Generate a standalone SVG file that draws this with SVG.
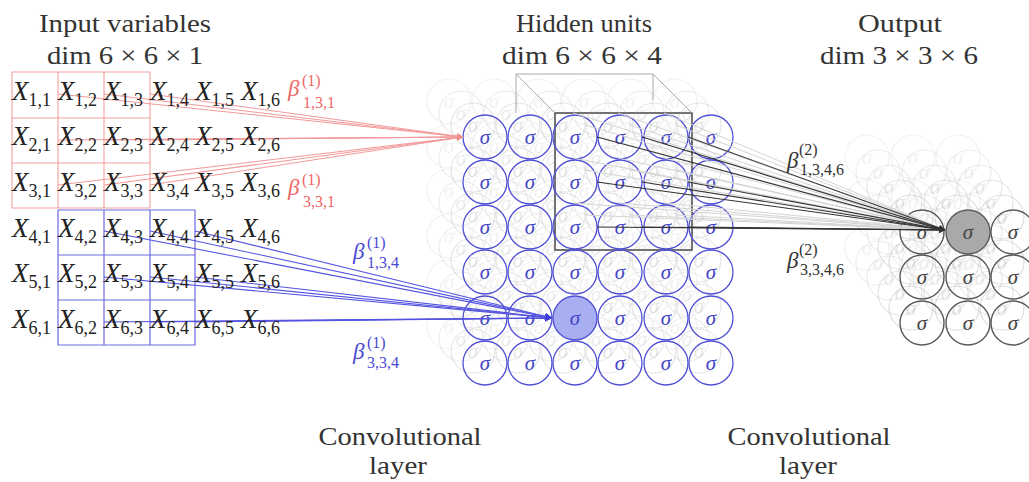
<svg xmlns="http://www.w3.org/2000/svg" xmlns:xlink="http://www.w3.org/1999/xlink" width="1029" height="482" viewBox="0 0 1029 482" font-family="'Liberation Serif', serif">
<style>
.t{fill:#333;font-size:26px;text-anchor:middle}
.x{font-size:27px;font-style:italic;fill:#222}
.sub{font-size:18px;font-style:normal}
.hn circle{fill:none;stroke:#5050d6;stroke-width:1.3}
.hn text,.on text,.grid text{font-style:italic;font-size:21px;text-anchor:middle}
.hn text{fill:#4646c8}
.on circle{fill:none;stroke:#5a5a5a;stroke-width:1.4}
.on text{fill:#444}
.grid circle{fill:none;stroke:currentColor;stroke-width:1.2}
.grid text{fill:currentColor}
.red{stroke:#f29a9a;stroke-width:1.1;fill:none}
.blue{stroke:#5454e0;stroke-width:1.1;fill:none}
.blk{stroke:#333;stroke-width:1.1;fill:none}
.gry{stroke:#d4d4d4;stroke-width:1;fill:none}
.b{font-size:23px;font-style:italic}
.ss{font-size:16px;font-style:normal}
</style>
<defs>
<marker id="ar" viewBox="0 0 6 6" refX="6" refY="3" markerWidth="6" markerHeight="6" markerUnits="userSpaceOnUse" orient="auto"><path d="M0,0L6,3L0,6z" fill="#f08c8c"/></marker>
<marker id="ab" viewBox="0 0 6 6" refX="6" refY="3" markerWidth="7" markerHeight="7" markerUnits="userSpaceOnUse" orient="auto"><path d="M0,0L6,3L0,6z" fill="#4040d8"/></marker>
<marker id="ak" viewBox="0 0 6 6" refX="6" refY="3" markerWidth="6" markerHeight="6" markerUnits="userSpaceOnUse" orient="auto"><path d="M0,0L6,3L0,6z" fill="#333"/></marker>
<g id="hgrid" class="grid">
<circle cx="485" cy="137" r="22"/><circle cx="530" cy="137" r="22"/><circle cx="575" cy="137" r="22"/><circle cx="620" cy="137" r="22"/><circle cx="666" cy="137" r="22"/><circle cx="711" cy="137" r="22"/>
<circle cx="485" cy="182" r="22"/><circle cx="530" cy="182" r="22"/><circle cx="575" cy="182" r="22"/><circle cx="620" cy="182" r="22"/><circle cx="666" cy="182" r="22"/><circle cx="711" cy="182" r="22"/>
<circle cx="485" cy="227" r="22"/><circle cx="530" cy="227" r="22"/><circle cx="575" cy="227" r="22"/><circle cx="620" cy="227" r="22"/><circle cx="666" cy="227" r="22"/><circle cx="711" cy="227" r="22"/>
<circle cx="485" cy="272" r="22"/><circle cx="530" cy="272" r="22"/><circle cx="575" cy="272" r="22"/><circle cx="620" cy="272" r="22"/><circle cx="666" cy="272" r="22"/><circle cx="711" cy="272" r="22"/>
<circle cx="485" cy="318" r="22"/><circle cx="530" cy="318" r="22"/><circle cx="575" cy="318" r="22"/><circle cx="620" cy="318" r="22"/><circle cx="666" cy="318" r="22"/><circle cx="711" cy="318" r="22"/>
<circle cx="485" cy="363" r="22"/><circle cx="530" cy="363" r="22"/><circle cx="575" cy="363" r="22"/><circle cx="620" cy="363" r="22"/><circle cx="666" cy="363" r="22"/><circle cx="711" cy="363" r="22"/>
<text x="485" y="144">σ</text><text x="530" y="144">σ</text><text x="575" y="144">σ</text><text x="620" y="144">σ</text><text x="666" y="144">σ</text><text x="711" y="144">σ</text>
<text x="485" y="189">σ</text><text x="530" y="189">σ</text><text x="575" y="189">σ</text><text x="620" y="189">σ</text><text x="666" y="189">σ</text><text x="711" y="189">σ</text>
<text x="485" y="234">σ</text><text x="530" y="234">σ</text><text x="575" y="234">σ</text><text x="620" y="234">σ</text><text x="666" y="234">σ</text><text x="711" y="234">σ</text>
<text x="485" y="279">σ</text><text x="530" y="279">σ</text><text x="575" y="279">σ</text><text x="620" y="279">σ</text><text x="666" y="279">σ</text><text x="711" y="279">σ</text>
<text x="485" y="325">σ</text><text x="530" y="325">σ</text><text x="575" y="325">σ</text><text x="620" y="325">σ</text><text x="666" y="325">σ</text><text x="711" y="325">σ</text>
<text x="485" y="370">σ</text><text x="530" y="370">σ</text><text x="575" y="370">σ</text><text x="620" y="370">σ</text><text x="666" y="370">σ</text><text x="711" y="370">σ</text>
</g>
<g id="ogrid" class="grid">
<circle cx="922" cy="232" r="22"/><circle cx="968" cy="232" r="22"/><circle cx="1013" cy="232" r="22"/>
<circle cx="922" cy="277" r="22"/><circle cx="968" cy="277" r="22"/><circle cx="1013" cy="277" r="22"/>
<circle cx="922" cy="323" r="22"/><circle cx="968" cy="323" r="22"/><circle cx="1013" cy="323" r="22"/>
<text x="922" y="239">σ</text><text x="968" y="239">σ</text><text x="1013" y="239">σ</text>
<text x="922" y="284">σ</text><text x="968" y="284">σ</text><text x="1013" y="284">σ</text>
<text x="922" y="330">σ</text><text x="968" y="330">σ</text><text x="1013" y="330">σ</text>
</g>
</defs>
<rect width="1029" height="482" fill="#fff"/>

<g id="titles">
<text class="t" x="125" y="32" textLength="172" lengthAdjust="spacingAndGlyphs">Input variables</text>
<text class="t" x="125" y="64" textLength="156" lengthAdjust="spacingAndGlyphs">dim 6 × 6 × 1</text>
<text class="t" x="584" y="32" textLength="136" lengthAdjust="spacingAndGlyphs">Hidden units</text>
<text class="t" x="582" y="64" textLength="160" lengthAdjust="spacingAndGlyphs">dim 6 × 6 × 4</text>
<text class="t" x="900" y="32" textLength="84" lengthAdjust="spacingAndGlyphs">Output</text>
<text class="t" x="899" y="64" textLength="158" lengthAdjust="spacingAndGlyphs">dim 3 × 3 × 6</text>
<text class="t" x="400" y="445" textLength="163" lengthAdjust="spacingAndGlyphs">Convolutional</text>
<text class="t" x="398" y="474" textLength="58" lengthAdjust="spacingAndGlyphs">layer</text>
<text class="t" x="809" y="445" textLength="163" lengthAdjust="spacingAndGlyphs">Convolutional</text>
<text class="t" x="808" y="474" textLength="58" lengthAdjust="spacingAndGlyphs">layer</text>
</g>

<g id="filters">
<path d="M12,72H150V208H12ZM58,72V208M104,72V208M12,118H150M12,163H150" fill="none" stroke="#f2a0a0" stroke-width="1.1"/>
<path d="M58,210H195V345H58ZM104,210V345M150,210V345M58,255H195M58,300H195" fill="none" stroke="#6a6ae0" stroke-width="1.2"/>
<path d="M555,113H692V250H555Z" fill="none" stroke="#444" stroke-width="1.5"/>
<path d="M516,113V74H653V100M516,74L555,113M653,74L692,113" fill="none" stroke="#aaa" stroke-width="1"/>
</g>

<g id="hidden-back">
<use xlink:href="#hgrid" href="#hgrid" transform="translate(-36,-36)" style="color:#999" opacity="0.12"/>
<use xlink:href="#hgrid" href="#hgrid" transform="translate(-24,-24)" style="color:#999" opacity="0.17"/>
<use xlink:href="#hgrid" href="#hgrid" transform="translate(-12,-12)" style="color:#999" opacity="0.24"/>
</g>
<g id="output-back">
<use xlink:href="#ogrid" href="#ogrid" transform="translate(-55,-75)" style="color:#999" opacity="0.12"/>
<use xlink:href="#ogrid" href="#ogrid" transform="translate(-44,-60)" style="color:#999" opacity="0.15"/>
<use xlink:href="#ogrid" href="#ogrid" transform="translate(-33,-45)" style="color:#999" opacity="0.19"/>
<use xlink:href="#ogrid" href="#ogrid" transform="translate(-22,-30)" style="color:#999" opacity="0.24"/>
<use xlink:href="#ogrid" href="#ogrid" transform="translate(-11,-15)" style="color:#999" opacity="0.3"/>
</g>

<g id="hidden">
<g id="h-1-1" class="hn"><circle cx="485" cy="137" r="22"/><text x="485" y="144">σ</text></g>
<g id="h-1-2" class="hn"><circle cx="530" cy="137" r="22"/><text x="530" y="144">σ</text></g>
<g id="h-1-3" class="hn"><circle cx="575" cy="137" r="22"/><text x="575" y="144">σ</text></g>
<g id="h-1-4" class="hn"><circle cx="620" cy="137" r="22"/><text x="620" y="144">σ</text></g>
<g id="h-1-5" class="hn"><circle cx="666" cy="137" r="22"/><text x="666" y="144">σ</text></g>
<g id="h-1-6" class="hn"><circle cx="711" cy="137" r="22"/><text x="711" y="144">σ</text></g>
<g id="h-2-1" class="hn"><circle cx="485" cy="182" r="22"/><text x="485" y="189">σ</text></g>
<g id="h-2-2" class="hn"><circle cx="530" cy="182" r="22"/><text x="530" y="189">σ</text></g>
<g id="h-2-3" class="hn"><circle cx="575" cy="182" r="22"/><text x="575" y="189">σ</text></g>
<g id="h-2-4" class="hn"><circle cx="620" cy="182" r="22"/><text x="620" y="189">σ</text></g>
<g id="h-2-5" class="hn"><circle cx="666" cy="182" r="22"/><text x="666" y="189">σ</text></g>
<g id="h-2-6" class="hn"><circle cx="711" cy="182" r="22"/><text x="711" y="189">σ</text></g>
<g id="h-3-1" class="hn"><circle cx="485" cy="227" r="22"/><text x="485" y="234">σ</text></g>
<g id="h-3-2" class="hn"><circle cx="530" cy="227" r="22"/><text x="530" y="234">σ</text></g>
<g id="h-3-3" class="hn"><circle cx="575" cy="227" r="22"/><text x="575" y="234">σ</text></g>
<g id="h-3-4" class="hn"><circle cx="620" cy="227" r="22"/><text x="620" y="234">σ</text></g>
<g id="h-3-5" class="hn"><circle cx="666" cy="227" r="22"/><text x="666" y="234">σ</text></g>
<g id="h-3-6" class="hn"><circle cx="711" cy="227" r="22"/><text x="711" y="234">σ</text></g>
<g id="h-4-1" class="hn"><circle cx="485" cy="272" r="22"/><text x="485" y="279">σ</text></g>
<g id="h-4-2" class="hn"><circle cx="530" cy="272" r="22"/><text x="530" y="279">σ</text></g>
<g id="h-4-3" class="hn"><circle cx="575" cy="272" r="22"/><text x="575" y="279">σ</text></g>
<g id="h-4-4" class="hn"><circle cx="620" cy="272" r="22"/><text x="620" y="279">σ</text></g>
<g id="h-4-5" class="hn"><circle cx="666" cy="272" r="22"/><text x="666" y="279">σ</text></g>
<g id="h-4-6" class="hn"><circle cx="711" cy="272" r="22"/><text x="711" y="279">σ</text></g>
<g id="h-5-1" class="hn"><circle cx="485" cy="318" r="22"/><text x="485" y="325">σ</text></g>
<g id="h-5-2" class="hn"><circle cx="530" cy="318" r="22"/><text x="530" y="325">σ</text></g>
<g id="h-5-3" class="hn"><circle cx="575" cy="318" r="22" style="fill:#a7aef2"/><text x="575" y="325">σ</text></g>
<g id="h-5-4" class="hn"><circle cx="620" cy="318" r="22"/><text x="620" y="325">σ</text></g>
<g id="h-5-5" class="hn"><circle cx="666" cy="318" r="22"/><text x="666" y="325">σ</text></g>
<g id="h-5-6" class="hn"><circle cx="711" cy="318" r="22"/><text x="711" y="325">σ</text></g>
<g id="h-6-1" class="hn"><circle cx="485" cy="363" r="22"/><text x="485" y="370">σ</text></g>
<g id="h-6-2" class="hn"><circle cx="530" cy="363" r="22"/><text x="530" y="370">σ</text></g>
<g id="h-6-3" class="hn"><circle cx="575" cy="363" r="22"/><text x="575" y="370">σ</text></g>
<g id="h-6-4" class="hn"><circle cx="620" cy="363" r="22"/><text x="620" y="370">σ</text></g>
<g id="h-6-5" class="hn"><circle cx="666" cy="363" r="22"/><text x="666" y="370">σ</text></g>
<g id="h-6-6" class="hn"><circle cx="711" cy="363" r="22"/><text x="711" y="370">σ</text></g>
</g>

<g id="output">
<g id="o-1-1" class="on"><circle cx="922" cy="232" r="22"/><text x="922" y="239">σ</text></g>
<g id="o-1-2" class="on"><circle cx="968" cy="232" r="22" style="fill:#a9a9a9"/><text x="968" y="239">σ</text></g>
<g id="o-1-3" class="on"><circle cx="1013" cy="232" r="22"/><text x="1013" y="239">σ</text></g>
<g id="o-2-1" class="on"><circle cx="922" cy="277" r="22"/><text x="922" y="284">σ</text></g>
<g id="o-2-2" class="on"><circle cx="968" cy="277" r="22"/><text x="968" y="284">σ</text></g>
<g id="o-2-3" class="on"><circle cx="1013" cy="277" r="22"/><text x="1013" y="284">σ</text></g>
<g id="o-3-1" class="on"><circle cx="922" cy="323" r="22"/><text x="922" y="330">σ</text></g>
<g id="o-3-2" class="on"><circle cx="968" cy="323" r="22"/><text x="968" y="330">σ</text></g>
<g id="o-3-3" class="on"><circle cx="1013" cy="323" r="22"/><text x="1013" y="330">σ</text></g>
</g>

<g id="connectors">
<g class="gry">
<line x1="585" y1="125" x2="945" y2="230"/><line x1="630" y1="125" x2="945" y2="230"/><line x1="676" y1="125" x2="945" y2="230"/>
<line x1="585" y1="170" x2="945" y2="230"/><line x1="630" y1="170" x2="945" y2="230"/><line x1="676" y1="170" x2="945" y2="230"/>
<line x1="585" y1="215" x2="945" y2="230"/><line x1="630" y1="215" x2="945" y2="230"/><line x1="676" y1="215" x2="945" y2="230"/>
<line x1="573" y1="113" x2="945" y2="230"/><line x1="618" y1="113" x2="945" y2="230"/><line x1="664" y1="113" x2="945" y2="230"/>
<line x1="573" y1="158" x2="945" y2="230"/><line x1="618" y1="158" x2="945" y2="230"/><line x1="664" y1="158" x2="945" y2="230"/>
<line x1="573" y1="203" x2="945" y2="230"/><line x1="618" y1="203" x2="945" y2="230"/><line x1="664" y1="203" x2="945" y2="230"/>
</g>
<g class="red" marker-end="url(#ar)">
<line x1="58" y1="94" x2="463" y2="137"/><line x1="104" y1="94" x2="463" y2="137"/><line x1="150" y1="94" x2="463" y2="137"/>
<line x1="58" y1="140" x2="463" y2="137"/><line x1="104" y1="140" x2="463" y2="137"/><line x1="150" y1="140" x2="463" y2="137"/>
<line x1="58" y1="185" x2="463" y2="137"/><line x1="104" y1="185" x2="463" y2="137"/><line x1="150" y1="185" x2="463" y2="137"/>
</g>
<g class="blue" marker-end="url(#ab)">
<line x1="104" y1="231" x2="552" y2="318"/><line x1="150" y1="231" x2="552" y2="318"/><line x1="195" y1="231" x2="552" y2="318"/>
<line x1="104" y1="277" x2="552" y2="318"/><line x1="150" y1="277" x2="552" y2="318"/><line x1="195" y1="277" x2="552" y2="318"/>
<line x1="104" y1="322" x2="552" y2="318"/><line x1="150" y1="322" x2="552" y2="318"/><line x1="195" y1="322" x2="552" y2="318"/>
</g>
<g class="blk" marker-end="url(#ak)">
<line x1="597" y1="137" x2="945" y2="230"/><line x1="642" y1="137" x2="945" y2="230"/><line x1="688" y1="137" x2="945" y2="230"/>
<line x1="597" y1="182" x2="945" y2="230"/><line x1="642" y1="182" x2="945" y2="230"/><line x1="688" y1="182" x2="945" y2="230"/>
<line x1="597" y1="227" x2="945" y2="230"/><line x1="642" y1="227" x2="945" y2="230"/><line x1="688" y1="227" x2="945" y2="230"/>
</g>
</g>

<g id="inputs">
<g id="x-1-1"><text class="x" x="12" y="100">X<tspan class="sub" dy="6">1,1</tspan></text></g>
<g id="x-1-2"><text class="x" x="58" y="100">X<tspan class="sub" dy="6">1,2</tspan></text></g>
<g id="x-1-3"><text class="x" x="104" y="100">X<tspan class="sub" dy="6">1,3</tspan></text></g>
<g id="x-1-4"><text class="x" x="150" y="100">X<tspan class="sub" dy="6">1,4</tspan></text></g>
<g id="x-1-5"><text class="x" x="195" y="100">X<tspan class="sub" dy="6">1,5</tspan></text></g>
<g id="x-1-6"><text class="x" x="241" y="100">X<tspan class="sub" dy="6">1,6</tspan></text></g>
<g id="x-2-1"><text class="x" x="12" y="145">X<tspan class="sub" dy="6">2,1</tspan></text></g>
<g id="x-2-2"><text class="x" x="58" y="145">X<tspan class="sub" dy="6">2,2</tspan></text></g>
<g id="x-2-3"><text class="x" x="104" y="145">X<tspan class="sub" dy="6">2,3</tspan></text></g>
<g id="x-2-4"><text class="x" x="150" y="145">X<tspan class="sub" dy="6">2,4</tspan></text></g>
<g id="x-2-5"><text class="x" x="195" y="145">X<tspan class="sub" dy="6">2,5</tspan></text></g>
<g id="x-2-6"><text class="x" x="241" y="145">X<tspan class="sub" dy="6">2,6</tspan></text></g>
<g id="x-3-1"><text class="x" x="12" y="191">X<tspan class="sub" dy="6">3,1</tspan></text></g>
<g id="x-3-2"><text class="x" x="58" y="191">X<tspan class="sub" dy="6">3,2</tspan></text></g>
<g id="x-3-3"><text class="x" x="104" y="191">X<tspan class="sub" dy="6">3,3</tspan></text></g>
<g id="x-3-4"><text class="x" x="150" y="191">X<tspan class="sub" dy="6">3,4</tspan></text></g>
<g id="x-3-5"><text class="x" x="195" y="191">X<tspan class="sub" dy="6">3,5</tspan></text></g>
<g id="x-3-6"><text class="x" x="241" y="191">X<tspan class="sub" dy="6">3,6</tspan></text></g>
<g id="x-4-1"><text class="x" x="12" y="237">X<tspan class="sub" dy="6">4,1</tspan></text></g>
<g id="x-4-2"><text class="x" x="58" y="237">X<tspan class="sub" dy="6">4,2</tspan></text></g>
<g id="x-4-3"><text class="x" x="104" y="237">X<tspan class="sub" dy="6">4,3</tspan></text></g>
<g id="x-4-4"><text class="x" x="150" y="237">X<tspan class="sub" dy="6">4,4</tspan></text></g>
<g id="x-4-5"><text class="x" x="195" y="237">X<tspan class="sub" dy="6">4,5</tspan></text></g>
<g id="x-4-6"><text class="x" x="241" y="237">X<tspan class="sub" dy="6">4,6</tspan></text></g>
<g id="x-5-1"><text class="x" x="12" y="282">X<tspan class="sub" dy="6">5,1</tspan></text></g>
<g id="x-5-2"><text class="x" x="58" y="282">X<tspan class="sub" dy="6">5,2</tspan></text></g>
<g id="x-5-3"><text class="x" x="104" y="282">X<tspan class="sub" dy="6">5,3</tspan></text></g>
<g id="x-5-4"><text class="x" x="150" y="282">X<tspan class="sub" dy="6">5,4</tspan></text></g>
<g id="x-5-5"><text class="x" x="195" y="282">X<tspan class="sub" dy="6">5,5</tspan></text></g>
<g id="x-5-6"><text class="x" x="241" y="282">X<tspan class="sub" dy="6">5,6</tspan></text></g>
<g id="x-6-1"><text class="x" x="12" y="328">X<tspan class="sub" dy="6">6,1</tspan></text></g>
<g id="x-6-2"><text class="x" x="58" y="328">X<tspan class="sub" dy="6">6,2</tspan></text></g>
<g id="x-6-3"><text class="x" x="104" y="328">X<tspan class="sub" dy="6">6,3</tspan></text></g>
<g id="x-6-4"><text class="x" x="150" y="328">X<tspan class="sub" dy="6">6,4</tspan></text></g>
<g id="x-6-5"><text class="x" x="195" y="328">X<tspan class="sub" dy="6">6,5</tspan></text></g>
<g id="x-6-6"><text class="x" x="241" y="328">X<tspan class="sub" dy="6">6,6</tspan></text></g>
</g>

<g id="weights">
<text class="b" x="288" y="96" fill="#e66">β<tspan class="ss" x="302" y="86">(1)</tspan><tspan class="ss" x="303" y="108">1,3,1</tspan></text>
<text class="b" x="288" y="195" fill="#e66">β<tspan class="ss" x="302" y="185">(1)</tspan><tspan class="ss" x="303" y="207">3,3,1</tspan></text>
<text class="b" x="353" y="259" fill="#4a4ad0">β<tspan class="ss" x="367" y="248">(1)</tspan><tspan class="ss" x="367" y="268">1,3,4</tspan></text>
<text class="b" x="353" y="359" fill="#4a4ad0">β<tspan class="ss" x="367" y="348">(1)</tspan><tspan class="ss" x="367" y="368">3,3,4</tspan></text>
<text class="b" x="787" y="168" fill="#333">β<tspan class="ss" x="799" y="155">(2)</tspan><tspan class="ss" x="800" y="175">1,3,4,6</tspan></text>
<text class="b" x="787" y="268" fill="#333">β<tspan class="ss" x="799" y="255">(2)</tspan><tspan class="ss" x="800" y="275">3,3,4,6</tspan></text>
</g>
</svg>
